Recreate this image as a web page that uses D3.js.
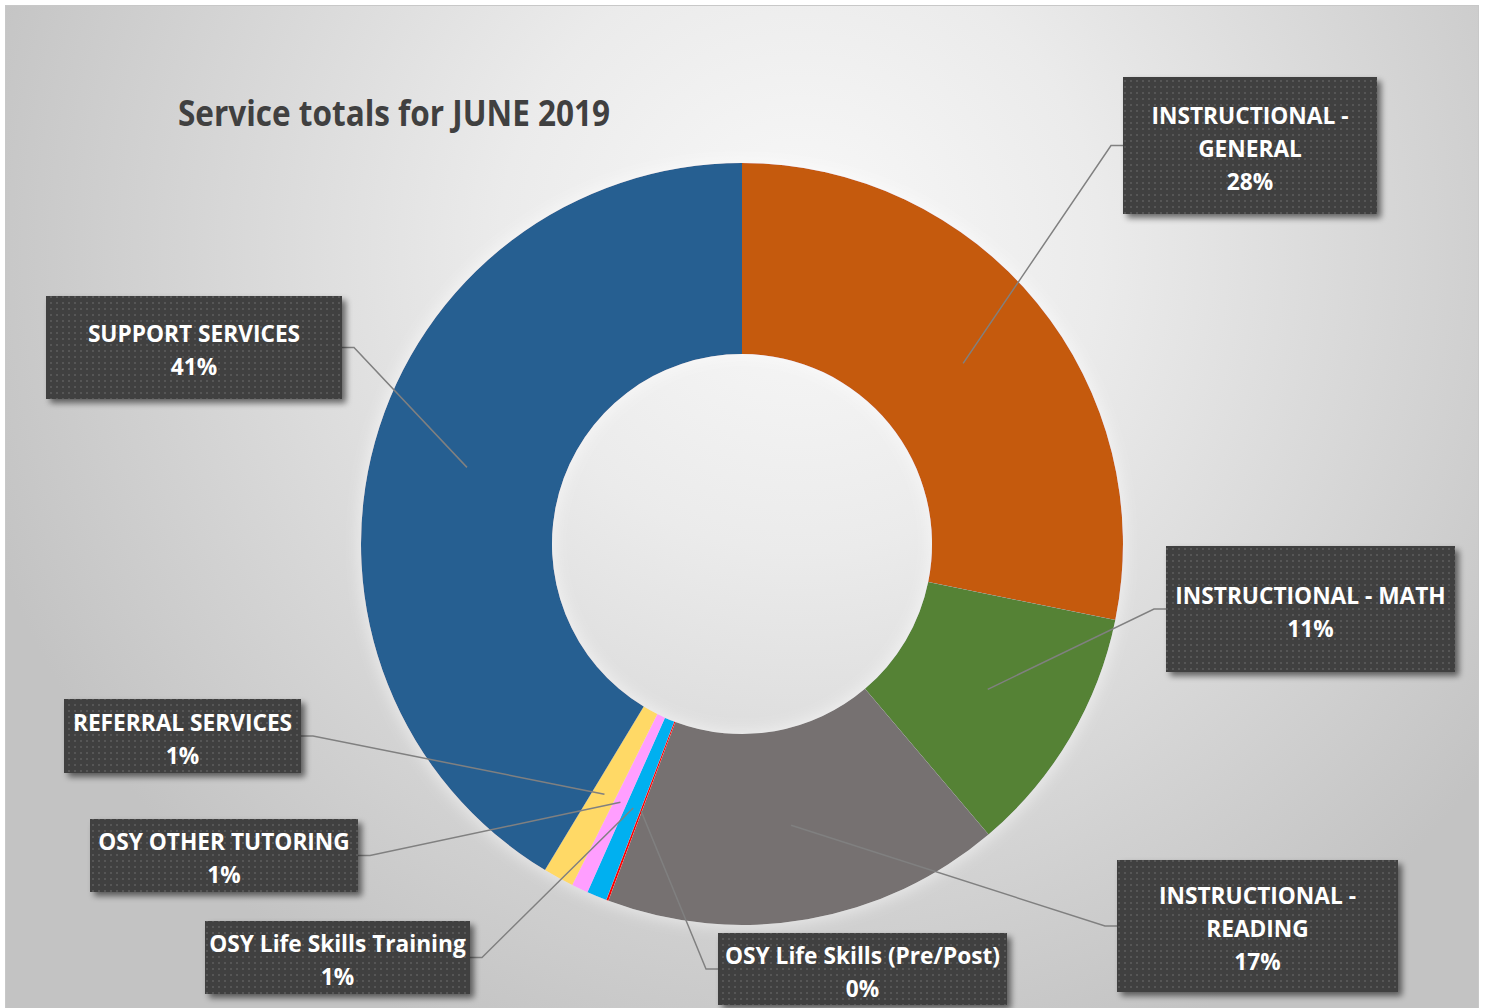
<!DOCTYPE html>
<html>
<head>
<meta charset="utf-8">
<script src="https://cdn.jsdelivr.net/npm/d3@7"></script>
<style>
  html, body { margin: 0; padding: 0; background: #ffffff; }
  svg { display: block; }
</style>
</head>
<body>
<script>
// chart data
const categories = [
  "INSTRUCTIONAL - GENERAL", "INSTRUCTIONAL - MATH", "INSTRUCTIONAL - READING",
  "OSY Life Skills (Pre/Post)", "OSY Life Skills Training", "OSY OTHER TUTORING",
  "REFERRAL SERVICES", "SUPPORT SERVICES"
];
const values = [28.2, 10.6, 16.9, 0.1, 0.85, 0.7, 1.3, 41.35];
const labelLines = [
  ["INSTRUCTIONAL -", "GENERAL"], ["INSTRUCTIONAL - MATH"], ["INSTRUCTIONAL -", "READING"],
  ["OSY Life Skills (Pre/Post)"], ["OSY Life Skills Training"], ["OSY OTHER TUTORING"],
  ["REFERRAL SERVICES"], ["SUPPORT SERVICES"]
];
const colors = ["#c55a11", "#548235", "#767171", "#ff0000", "#00b0f0", "#ff9eff", "#ffd966", "#255e91"];
const title = "Service totals for JUNE 2019";

// label box layout
const boxes = [
  { x: 1123, y: 77,  w: 254, h: 137, side: "left" },
  { x: 1166, y: 546, w: 289, h: 126, side: "left" },
  { x: 1117, y: 860, w: 281, h: 132, side: "left" },
  { x: 718,  y: 933, w: 289, h: 72,  side: "left" },
  { x: 205,  y: 921, w: 265, h: 73,  side: "right" },
  { x: 90,   y: 819, w: 268, h: 73,  side: "right" },
  { x: 64,   y: 699, w: 237, h: 74,  side: "right" },
  { x: 46,   y: 296, w: 296, h: 103, side: "right" }
];

const W = 1485, H = 1008;
const cx = 742, cy = 544, rOuter = 381, rInner = 190;
const fontFam = "'Open Sans', Lato, sans-serif";

const svg = d3.select("body").append("svg")
  .attr("width", W).attr("height", H);

const defs = svg.append("defs");

const bg = defs.append("radialGradient")
  .attr("id", "bg").attr("gradientUnits", "userSpaceOnUse")
  .attr("cx", 800).attr("cy", 250).attr("r", 860);
bg.append("stop").attr("offset", "0%").attr("stop-color", "#f9f9f9");
bg.append("stop").attr("offset", "35%").attr("stop-color", "#ebebeb");
bg.append("stop").attr("offset", "100%").attr("stop-color", "#c3c3c3");

const dots = defs.append("pattern")
  .attr("id", "dots").attr("patternUnits", "userSpaceOnUse")
  .attr("width", 6).attr("height", 6);
dots.append("rect").attr("width", 6).attr("height", 6).attr("fill", "#3f3f3f");
dots.append("rect").attr("x", 2).attr("y", 2).attr("width", 2).attr("height", 2).attr("fill", "#565656");

const shadow = defs.append("filter").attr("id", "shadow")
  .attr("x", "-10%").attr("y", "-10%").attr("width", "130%").attr("height", "140%");
shadow.append("feGaussianBlur").attr("in", "SourceAlpha").attr("stdDeviation", 3).attr("result", "b");
shadow.append("feOffset").attr("in", "b").attr("dx", 4).attr("dy", 4).attr("result", "o");
shadow.append("feComponentTransfer").attr("in", "o").attr("result", "s")
  .append("feFuncA").attr("type", "linear").attr("slope", 0.55);
const sm = shadow.append("feMerge");
sm.append("feMergeNode").attr("in", "s");
sm.append("feMergeNode").attr("in", "SourceGraphic");

const glow = defs.append("filter").attr("id", "glow")
  .attr("x", "-10%").attr("y", "-10%").attr("width", "120%").attr("height", "120%");
glow.append("feMorphology").attr("in", "SourceAlpha").attr("operator", "dilate").attr("radius", 3).attr("result", "d");
glow.append("feGaussianBlur").attr("in", "d").attr("stdDeviation", 7).attr("result", "b");
glow.append("feFlood").attr("flood-color", "#ffffff").attr("flood-opacity", 0.45);
glow.append("feComposite").attr("in2", "b").attr("operator", "in").attr("result", "g");
const gm = glow.append("feMerge");
gm.append("feMergeNode").attr("in", "g");
gm.append("feMergeNode").attr("in", "SourceGraphic");

// chart area
svg.append("rect")
  .attr("x", 5.5).attr("y", 5.5).attr("width", 1473).attr("height", H + 10)
  .attr("fill", "url(#bg)").attr("stroke", "#c8c8c8").attr("stroke-width", 1);

function squeeze(k) {
  return sel => sel.each(function() {
    const len = this.getComputedTextLength();
    d3.select(this).attr("textLength", len * k).attr("lengthAdjust", "spacingAndGlyphs");
  });
}

svg.append("text")
  .attr("x", 178).attr("y", 126)
  .attr("font-family", fontFam)
  .attr("font-weight", "bold").attr("font-size", 35)
  .attr("fill", "#404040")
  .text(title)
  .call(squeeze(0.9));

// donut
const pie = d3.pie().sort(null).value(d => d);
const arcs = pie(values);
const total = d3.sum(values);
const pct = d3.format(".0%");

const arc = d3.arc().innerRadius(rInner).outerRadius(rOuter);
const mid = d3.arc().innerRadius((rInner + rOuter) / 2).outerRadius((rInner + rOuter) / 2);

const g = svg.append("g").attr("transform", `translate(${cx},${cy})`);

g.append("g").attr("filter", "url(#glow)")
  .selectAll("path")
  .data(arcs)
  .enter()
  .append("path")
  .attr("d", arc)
  .attr("fill", (d, i) => colors[i]);

// leader lines
svg.append("g").selectAll("polyline")
  .data(arcs)
  .enter()
  .append("polyline")
  .attr("fill", "none")
  .attr("stroke", "#808080")
  .attr("stroke-width", 1.5)
  .attr("points", (d, i) => {
    const c = mid.centroid(d);
    const b = boxes[i];
    const yy = b.y + b.h / 2;
    const edge = b.side === "left" ? b.x : b.x + b.w;
    const elbow = b.side === "left" ? edge - 12 : edge + 12;
    return [[cx + c[0], cy + c[1]], [elbow, yy], [edge, yy]].map(p => p.join(",")).join(" ");
  });

// label boxes
const lab = svg.append("g").selectAll("g")
  .data(arcs)
  .enter()
  .append("g");

lab.append("rect")
  .attr("x", (d, i) => boxes[i].x)
  .attr("y", (d, i) => boxes[i].y)
  .attr("width", (d, i) => boxes[i].w)
  .attr("height", (d, i) => boxes[i].h)
  .attr("fill", "url(#dots)")
  .attr("filter", "url(#shadow)");

lab.each(function(d, i) {
  const b = boxes[i];
  const lines = labelLines[i].concat([pct(d.value / total)]);
  const n = lines.length;
  const mcy = b.y + b.h / 2 + 1.5;
  d3.select(this).selectAll("text")
    .data(lines)
    .enter()
    .append("text")
    .attr("x", b.x + b.w / 2)
    .attr("y", (t, k) => mcy + (k - (n - 1) / 2) * 33)
    .attr("text-anchor", "middle")
    .attr("dominant-baseline", "central")
    .attr("font-family", fontFam)
    .attr("font-weight", "bold")
    .attr("font-size", 24)
    .attr("fill", "#ffffff")
    .text(t => t)
    .call(squeeze(0.945));
});
</script>
</body>
</html>
